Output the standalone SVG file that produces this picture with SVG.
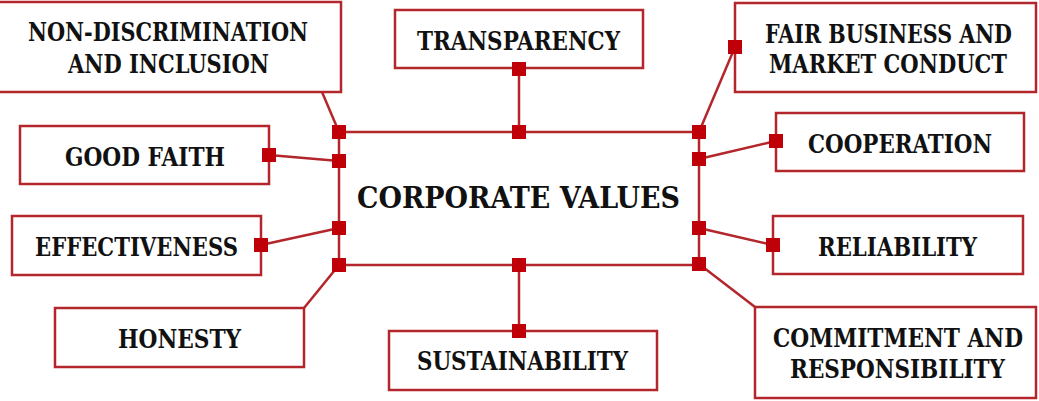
<svg xmlns="http://www.w3.org/2000/svg" width="1039" height="401" viewBox="0 0 1039 401">
  <style>
    .box { fill: #ffffff; stroke: #b3262b; stroke-width: 2.5; }
    .link { fill: none; stroke: #b3262b; stroke-width: 2.5; }
    .dot { fill: #c00008; }
    .lbl { font-family: "DejaVu Serif", "Liberation Serif", serif; font-stretch: condensed; font-weight: bold; font-size: 25.5px; fill: #111111; text-anchor: middle; }
    .title { font-family: "DejaVu Serif", "Liberation Serif", serif; font-stretch: condensed; font-weight: bold; font-size: 30px; fill: #111111; text-anchor: middle; }
  </style>
  <defs>
    <rect id="sq" x="-7" y="-7" width="14" height="14" class="dot"/>
  </defs>
  <rect width="1039" height="401" fill="#ffffff"/>

  <!-- connectors -->
  <g id="connectors">
    <!-- central frame -->
    <polyline class="link" points="339,132 699,132"/>
    <polyline class="link" points="339,265 699,265"/>
    <polyline class="link" points="339,132 339,265"/>
    <polyline class="link" points="699,132 699,265"/>
    <!-- spokes -->
    <line class="link" x1="322" y1="92" x2="339" y2="132"/>
    <line class="link" x1="269" y1="155" x2="339" y2="161"/>
    <line class="link" x1="261" y1="245" x2="339" y2="228"/>
    <line class="link" x1="304" y1="308" x2="339" y2="265"/>
    <line class="link" x1="519" y1="69" x2="519" y2="132"/>
    <line class="link" x1="519" y1="265" x2="519" y2="331"/>
    <line class="link" x1="735" y1="47" x2="699" y2="132"/>
    <line class="link" x1="776" y1="141" x2="699" y2="159"/>
    <line class="link" x1="773" y1="245" x2="699" y2="228"/>
    <line class="link" x1="755" y1="307" x2="699" y2="264"/>
    <!-- junction squares -->
    <use href="#sq" x="339" y="132"/>
    <use href="#sq" x="339" y="161"/>
    <use href="#sq" x="339" y="228"/>
    <use href="#sq" x="339" y="265"/>
    <use href="#sq" x="519" y="132"/>
    <use href="#sq" x="519" y="265"/>
    <use href="#sq" x="699" y="132"/>
    <use href="#sq" x="699" y="159"/>
    <use href="#sq" x="699" y="228"/>
    <use href="#sq" x="699" y="264"/>
  </g>

  <g id="center">
    <text class="title" x="518.5" y="208" textLength="323" lengthAdjust="spacingAndGlyphs">CORPORATE VALUES</text>
  </g>

  <g id="non-discrimination">
    <rect class="box" x="-2" y="2" width="343" height="90"/>
    <text class="lbl" x="168" y="41" textLength="280" lengthAdjust="spacingAndGlyphs">NON-DISCRIMINATION</text>
    <text class="lbl" x="168.5" y="73" textLength="201" lengthAdjust="spacingAndGlyphs">AND INCLUSION</text>
  </g>

  <g id="transparency">
    <rect class="box" x="395" y="10" width="248" height="58"/>
    <text class="lbl" x="518.5" y="50" textLength="203" lengthAdjust="spacingAndGlyphs">TRANSPARENCY</text>
    <use href="#sq" x="519" y="69"/>
  </g>

  <g id="fair-business">
    <rect class="box" x="735" y="3" width="301" height="89"/>
    <text class="lbl" x="888.5" y="43" textLength="247" lengthAdjust="spacingAndGlyphs">FAIR BUSINESS AND</text>
    <text class="lbl" x="888" y="73" textLength="238" lengthAdjust="spacingAndGlyphs">MARKET CONDUCT</text>
    <use href="#sq" x="735" y="47"/>
  </g>

  <g id="good-faith">
    <rect class="box" x="20" y="126" width="249" height="58"/>
    <text class="lbl" x="145" y="166" textLength="160" lengthAdjust="spacingAndGlyphs">GOOD FAITH</text>
    <use href="#sq" x="269" y="155"/>
  </g>

  <g id="cooperation">
    <rect class="box" x="776" y="113" width="248" height="58"/>
    <text class="lbl" x="900" y="153" textLength="184" lengthAdjust="spacingAndGlyphs">COOPERATION</text>
    <use href="#sq" x="776" y="141"/>
  </g>

  <g id="effectiveness">
    <rect class="box" x="12" y="216" width="249" height="59"/>
    <text class="lbl" x="136.5" y="256" textLength="203" lengthAdjust="spacingAndGlyphs">EFFECTIVENESS</text>
    <use href="#sq" x="261" y="245"/>
  </g>

  <g id="reliability">
    <rect class="box" x="773" y="216" width="250" height="58"/>
    <text class="lbl" x="897.5" y="256" textLength="159" lengthAdjust="spacingAndGlyphs">RELIABILITY</text>
    <use href="#sq" x="773" y="245"/>
  </g>

  <g id="honesty">
    <rect class="box" x="55" y="308" width="249" height="59"/>
    <text class="lbl" x="179.5" y="348" textLength="123" lengthAdjust="spacingAndGlyphs">HONESTY</text>
  </g>

  <g id="sustainability">
    <rect class="box" x="389" y="331" width="268" height="59"/>
    <text class="lbl" x="522.5" y="370" textLength="211" lengthAdjust="spacingAndGlyphs">SUSTAINABILITY</text>
    <use href="#sq" x="519" y="331"/>
  </g>

  <g id="commitment">
    <rect class="box" x="755" y="307" width="281" height="91"/>
    <text class="lbl" x="898" y="347" textLength="250" lengthAdjust="spacingAndGlyphs">COMMITMENT AND</text>
    <text class="lbl" x="897.5" y="378" textLength="215" lengthAdjust="spacingAndGlyphs">RESPONSIBILITY</text>
  </g>
</svg>
